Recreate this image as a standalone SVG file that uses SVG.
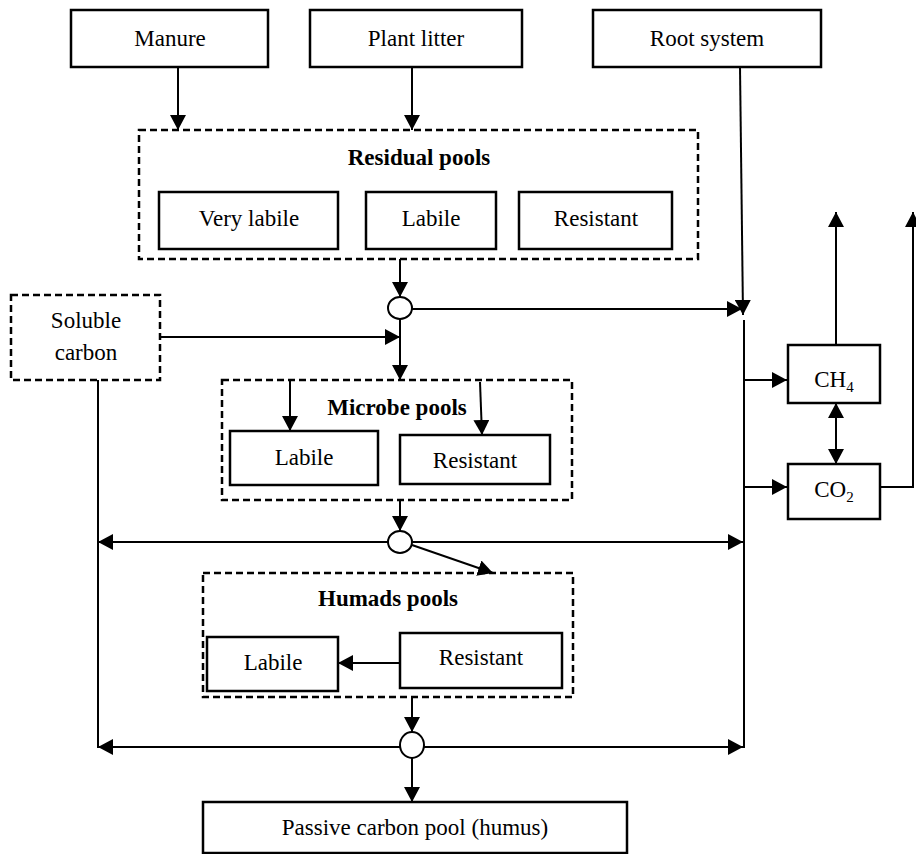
<svg xmlns="http://www.w3.org/2000/svg" width="916" height="854" viewBox="0 0 916 854">
<style>
.box{fill:#fff;stroke:#000;stroke-width:2.5}
.dash{fill:none;stroke:#000;stroke-width:2.5;stroke-dasharray:7,4}
.ln{fill:none;stroke:#000;stroke-width:2}
.t{font-family:"Liberation Serif","Times New Roman",serif;font-size:23px;fill:#000;text-anchor:middle}
.b{font-weight:bold}
.circ{fill:#fff;stroke:#000;stroke-width:2}
</style>
<defs>
<marker id="ah" markerUnits="userSpaceOnUse" markerWidth="16" markerHeight="16" refX="15" refY="8" orient="auto">
<path d="M0,0 L15,8 L0,16 z" fill="#000"/>
</marker>
<marker id="ahs" markerUnits="userSpaceOnUse" markerWidth="16" markerHeight="16" refX="15" refY="8" orient="auto-start-reverse">
<path d="M0,0 L15,8 L0,16 z" fill="#000"/>
</marker>
</defs>

<g id="connectors">
<line class="ln" x1="178" y1="67" x2="178" y2="130" marker-end="url(#ah)"/>
<line class="ln" x1="412" y1="67" x2="412" y2="130" marker-end="url(#ah)"/>
<line class="ln" x1="740" y1="67" x2="743" y2="315" marker-end="url(#ah)"/>
<line class="ln" x1="400" y1="259" x2="400" y2="297" marker-end="url(#ah)"/>
<line class="ln" x1="412" y1="309" x2="742" y2="309" marker-end="url(#ah)"/>
<line class="ln" x1="400" y1="319" x2="400" y2="380" marker-end="url(#ah)"/>
<line class="ln" x1="160" y1="337" x2="400" y2="337" marker-end="url(#ah)"/>
<line class="ln" x1="98" y1="380" x2="98" y2="748"/>
<line class="ln" x1="744" y1="320" x2="744" y2="748"/>
<line class="ln" x1="744" y1="380" x2="787" y2="380" marker-end="url(#ah)"/>
<line class="ln" x1="744" y1="487" x2="787" y2="487" marker-end="url(#ah)"/>
<line class="ln" x1="836" y1="403" x2="836" y2="464" marker-start="url(#ahs)" marker-end="url(#ahs)"/>
<line class="ln" x1="836" y1="345" x2="836" y2="212" marker-end="url(#ah)"/>
<polyline class="ln" points="880,487 913,487 913,212" marker-end="url(#ah)"/>
<line class="ln" x1="290" y1="380" x2="290" y2="431" marker-end="url(#ah)"/>
<line class="ln" x1="480" y1="382" x2="482" y2="435" marker-end="url(#ah)"/>
<line class="ln" x1="400" y1="500" x2="400" y2="531" marker-end="url(#ah)"/>
<line class="ln" x1="388" y1="542" x2="98" y2="542" marker-end="url(#ah)"/>
<line class="ln" x1="412" y1="542" x2="743" y2="542" marker-end="url(#ah)"/>
<line class="ln" x1="412" y1="545" x2="493" y2="573" marker-end="url(#ah)"/>
<line class="ln" x1="400" y1="663" x2="338" y2="663" marker-end="url(#ah)"/>
<line class="ln" x1="412" y1="697" x2="412" y2="732" marker-end="url(#ah)"/>
<line class="ln" x1="400" y1="747" x2="98" y2="747" marker-end="url(#ah)"/>
<line class="ln" x1="424" y1="747" x2="743" y2="747" marker-end="url(#ah)"/>
<line class="ln" x1="412" y1="758" x2="412" y2="802" marker-end="url(#ah)"/>
</g>

<g id="manure"><rect class="box" x="71" y="10" width="197" height="57"/><text class="t" x="170" y="46">Manure</text></g>
<g id="plant-litter"><rect class="box" x="310" y="10" width="212" height="57"/><text class="t" x="416" y="46">Plant litter</text></g>
<g id="root-system"><rect class="box" x="593" y="10" width="228" height="57"/><text class="t" x="707" y="46">Root system</text></g>

<g id="residual-pools">
<rect class="dash" x="139" y="130" width="559" height="129"/>
<text class="t b" x="419" y="165">Residual pools</text>
</g>
<g id="res-very-labile"><rect class="box" x="159" y="192" width="179" height="57"/><text class="t" x="249" y="226">Very labile</text></g>
<g id="res-labile"><rect class="box" x="366" y="192" width="130" height="57"/><text class="t" x="431" y="226">Labile</text></g>
<g id="res-resistant"><rect class="box" x="519" y="192" width="153" height="57"/><text class="t" x="596" y="226">Resistant</text></g>

<g id="junction1"><ellipse class="circ" cx="400" cy="308" rx="12" ry="11"/></g>

<g id="soluble-carbon">
<rect class="dash" x="11" y="295" width="149" height="85"/>
<text class="t" x="86" y="328">Soluble</text>
<text class="t" x="86" y="360">carbon</text>
</g>

<g id="microbe-pools">
<rect class="dash" x="222" y="380" width="350" height="120"/>
<text class="t b" x="397" y="415">Microbe pools</text>
</g>
<g id="mic-labile"><rect class="box" x="230" y="431" width="148" height="54"/><text class="t" x="304" y="465">Labile</text></g>
<g id="mic-resistant"><rect class="box" x="400" y="435" width="150" height="49"/><text class="t" x="475" y="468">Resistant</text></g>

<g id="junction2"><ellipse class="circ" cx="400" cy="542" rx="12" ry="11"/></g>

<g id="ch4"><rect class="box" x="788" y="345" width="92" height="58"/><text class="t" x="834" y="387">CH<tspan font-size="15" dy="5">4</tspan></text></g>
<g id="co2"><rect class="box" x="788" y="464" width="92" height="55"/><text class="t" x="834" y="497">CO<tspan font-size="15" dy="5">2</tspan></text></g>

<g id="humads-pools">
<rect class="dash" x="203" y="573" width="370" height="124"/>
<text class="t b" x="388" y="606">Humads pools</text>
</g>
<g id="hum-labile"><rect class="box" x="207" y="637" width="131" height="54"/><text class="t" x="273" y="670">Labile</text></g>
<g id="hum-resistant"><rect class="box" x="400" y="633" width="162" height="55"/><text class="t" x="481" y="665">Resistant</text></g>

<g id="junction3"><ellipse class="circ" cx="412" cy="745" rx="12" ry="13"/></g>

<g id="passive-pool"><rect class="box" x="203" y="802" width="424" height="51"/><text class="t" x="415" y="835">Passive carbon pool (humus)</text></g>
</svg>
